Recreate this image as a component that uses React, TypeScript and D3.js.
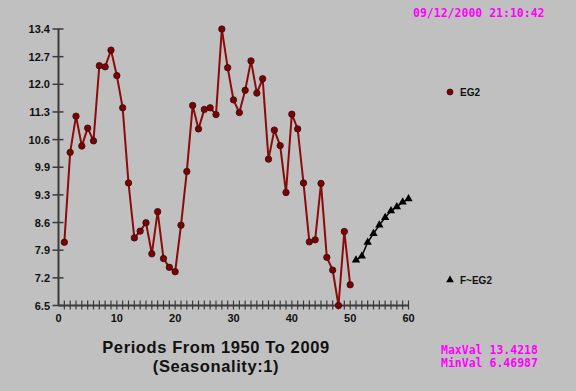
import { useEffect, useRef } from 'react';
import * as d3 from 'd3';

// EG2 history (periods 1..50) and forecast F~EG2 (periods 51..60)
const periods = d3.range(1, 51);
const eg2Values = [
    8.06, 10.32, 11.23, 10.48, 10.93, 10.61, 12.50, 12.47, 12.89, 12.25,
    11.44, 9.55, 8.17, 8.34, 8.55, 7.77, 8.83, 7.65, 7.43, 7.32,
    8.49, 9.84, 11.50, 10.91, 11.40, 11.44, 11.27, 13.42, 12.45, 11.64,
    11.32, 11.88, 12.62, 11.81, 12.17, 10.15, 10.88, 10.49, 9.31, 11.28,
    10.91, 9.55, 8.07, 8.12, 9.54, 7.68, 7.36, 6.47, 8.33, 6.99
];
const forecastPeriods = d3.range(51, 61);
const forecastValues = [7.61, 7.71, 8.06, 8.28, 8.49, 8.68, 8.85, 8.95, 9.07, 9.15];

const maxVal = 13.4218;
const minVal = 6.46987;
const xTickLabels = [0, 10, 20, 30, 40, 50, 60];
const timestamp = '09/12/2000 21:10:42';
const titleLines = ['Periods From 1950 To 2009', '(Seasonality:1)'];

const width = 576;
const height = 391;

const App = () => {
    const svgRef = useRef<SVGSVGElement>(null);

    useEffect(() => {
        if (!svgRef.current) return;
        d3.select(svgRef.current).selectAll('*').remove();

        const svg = d3.select(svgRef.current)
            .attr('width', width)
            .attr('height', height);

        // background
        svg.append('rect')
            .attr('width', width)
            .attr('height', height)
            .attr('fill', '#c0c0c0');

        const x = d3.scaleLinear().domain([0, 60]).range([58.5, 408.5]);
        const y = d3.scaleLinear().domain([minVal, maxVal]).range([305.5, 29]);

        const axisColor = '#3a3a3a';
        const labelFont = '"Liberation Sans", Arial, sans-serif';

        // y axis
        const yTicks = d3.range(11).map(i => minVal + (i * (maxVal - minVal)) / 10);
        const yAxis = svg.append('g');
        yAxis.append('line')
            .attr('x1', x(0)).attr('x2', x(0))
            .attr('y1', y(maxVal)).attr('y2', y(minVal))
            .attr('stroke', axisColor)
            .attr('stroke-width', 2);
        yAxis.selectAll('.ytick')
            .data(yTicks)
            .enter()
            .append('line')
            .attr('x1', x(0) - 6).attr('x2', x(0) + 5)
            .attr('y1', d => y(d)).attr('y2', d => y(d))
            .attr('stroke', axisColor)
            .attr('stroke-width', 1.5);
        yAxis.selectAll('.ylabel')
            .data(yTicks)
            .enter()
            .append('text')
            .attr('x', 50)
            .attr('y', d => y(d) + 4)
            .attr('text-anchor', 'end')
            .style('font-family', labelFont)
            .style('font-weight', 'bold')
            .style('font-size', '11px')
            .attr('fill', '#111')
            .text(d => d.toFixed(1));

        // x axis
        const xAxis = svg.append('g');
        xAxis.append('line')
            .attr('x1', x(0)).attr('x2', x(60))
            .attr('y1', y(minVal)).attr('y2', y(minVal))
            .attr('stroke', axisColor)
            .attr('stroke-width', 2);
        xAxis.selectAll('.xtick')
            .data(d3.range(1, 61))
            .enter()
            .append('line')
            .attr('x1', d => x(d)).attr('x2', d => x(d))
            .attr('y1', y(minVal) - 5).attr('y2', y(minVal) + 4)
            .attr('stroke', axisColor)
            .attr('stroke-width', 1.2);
        xAxis.selectAll('.xlabel')
            .data(xTickLabels)
            .enter()
            .append('text')
            .attr('x', d => x(d))
            .attr('y', 322)
            .attr('text-anchor', 'middle')
            .style('font-family', labelFont)
            .style('font-weight', 'bold')
            .style('font-size', '11px')
            .attr('fill', '#111')
            .text(d => d);

        // EG2 line + points
        const histData = periods.map((p, i) => [p, eg2Values[i]] as [number, number]);
        const line = d3.line<[number, number]>()
            .x(d => x(d[0]))
            .y(d => y(d[1]));

        svg.append('path')
            .datum(histData)
            .attr('fill', 'none')
            .attr('stroke', '#8b0a0a')
            .attr('stroke-width', 2)
            .attr('d', line);

        svg.selectAll('.dot')
            .data(histData)
            .enter()
            .append('circle')
            .attr('cx', d => x(d[0]))
            .attr('cy', d => y(d[1]))
            .attr('r', 3.2)
            .attr('fill', '#800000')
            .attr('stroke', '#2a1010')
            .attr('stroke-width', 0.8);

        // forecast line + triangles
        const fcData = forecastPeriods.map((p, i) => [p, forecastValues[i]] as [number, number]);
        svg.append('path')
            .datum(fcData)
            .attr('fill', 'none')
            .attr('stroke', '#000')
            .attr('stroke-width', 1.5)
            .attr('d', line);

        const tri = d3.symbol().type(d3.symbolTriangle).size(30);
        svg.selectAll('.tri')
            .data(fcData)
            .enter()
            .append('path')
            .attr('transform', d => `translate(${x(d[0])},${y(d[1])})`)
            .attr('d', tri)
            .attr('fill', '#000');

        // legend
        svg.append('circle')
            .attr('cx', 450).attr('cy', 92)
            .attr('r', 3)
            .attr('fill', '#800000')
            .attr('stroke', '#2a1010')
            .attr('stroke-width', 0.8);
        svg.append('text')
            .attr('x', 460).attr('y', 96)
            .style('font-family', labelFont)
            .style('font-weight', 'bold')
            .style('font-size', '10px')
            .attr('fill', '#111')
            .text('EG2');
        svg.append('path')
            .attr('transform', 'translate(450,280)')
            .attr('d', d3.symbol().type(d3.symbolTriangle).size(26)())
            .attr('fill', '#000');
        svg.append('text')
            .attr('x', 460).attr('y', 284)
            .style('font-family', labelFont)
            .style('font-weight', 'bold')
            .style('font-size', '10px')
            .attr('fill', '#111')
            .text('F~EG2');

        // magenta info text
        const monoFont = '"DejaVu Sans Mono", "Liberation Mono", monospace';
        svg.append('text')
            .attr('x', 413).attr('y', 17)
            .style('font-family', monoFont)
            .style('font-weight', 'bold')
            .style('font-size', '11.5px')
            .attr('fill', '#ff00ff')
            .text(timestamp);
        svg.append('text')
            .attr('x', 441).attr('y', 354)
            .style('font-family', monoFont)
            .style('font-weight', 'bold')
            .style('font-size', '11.5px')
            .attr('fill', '#ff00ff')
            .text(`MaxVal ${maxVal}`);
        svg.append('text')
            .attr('x', 441).attr('y', 367)
            .style('font-family', monoFont)
            .style('font-weight', 'bold')
            .style('font-size', '11.5px')
            .attr('fill', '#ff00ff')
            .text(`MinVal ${minVal}`);

        // title
        svg.selectAll('.title')
            .data(titleLines)
            .enter()
            .append('text')
            .attr('x', 216)
            .attr('y', (_, i) => 353 + i * 19)
            .attr('text-anchor', 'middle')
            .style('font-family', labelFont)
            .style('font-weight', 'bold')
            .style('font-size', '16.5px')
            .style('letter-spacing', '0.6px')
            .attr('fill', '#111')
            .text(d => d);
    }, []);

    return (
        <div style={{ position: 'absolute', left: 0, top: 0 }}>
            <svg ref={svgRef} role="img" aria-label="EG2 time series with forecast" style={{ display: 'block' }}></svg>
        </div>
    );
};

export default App;
